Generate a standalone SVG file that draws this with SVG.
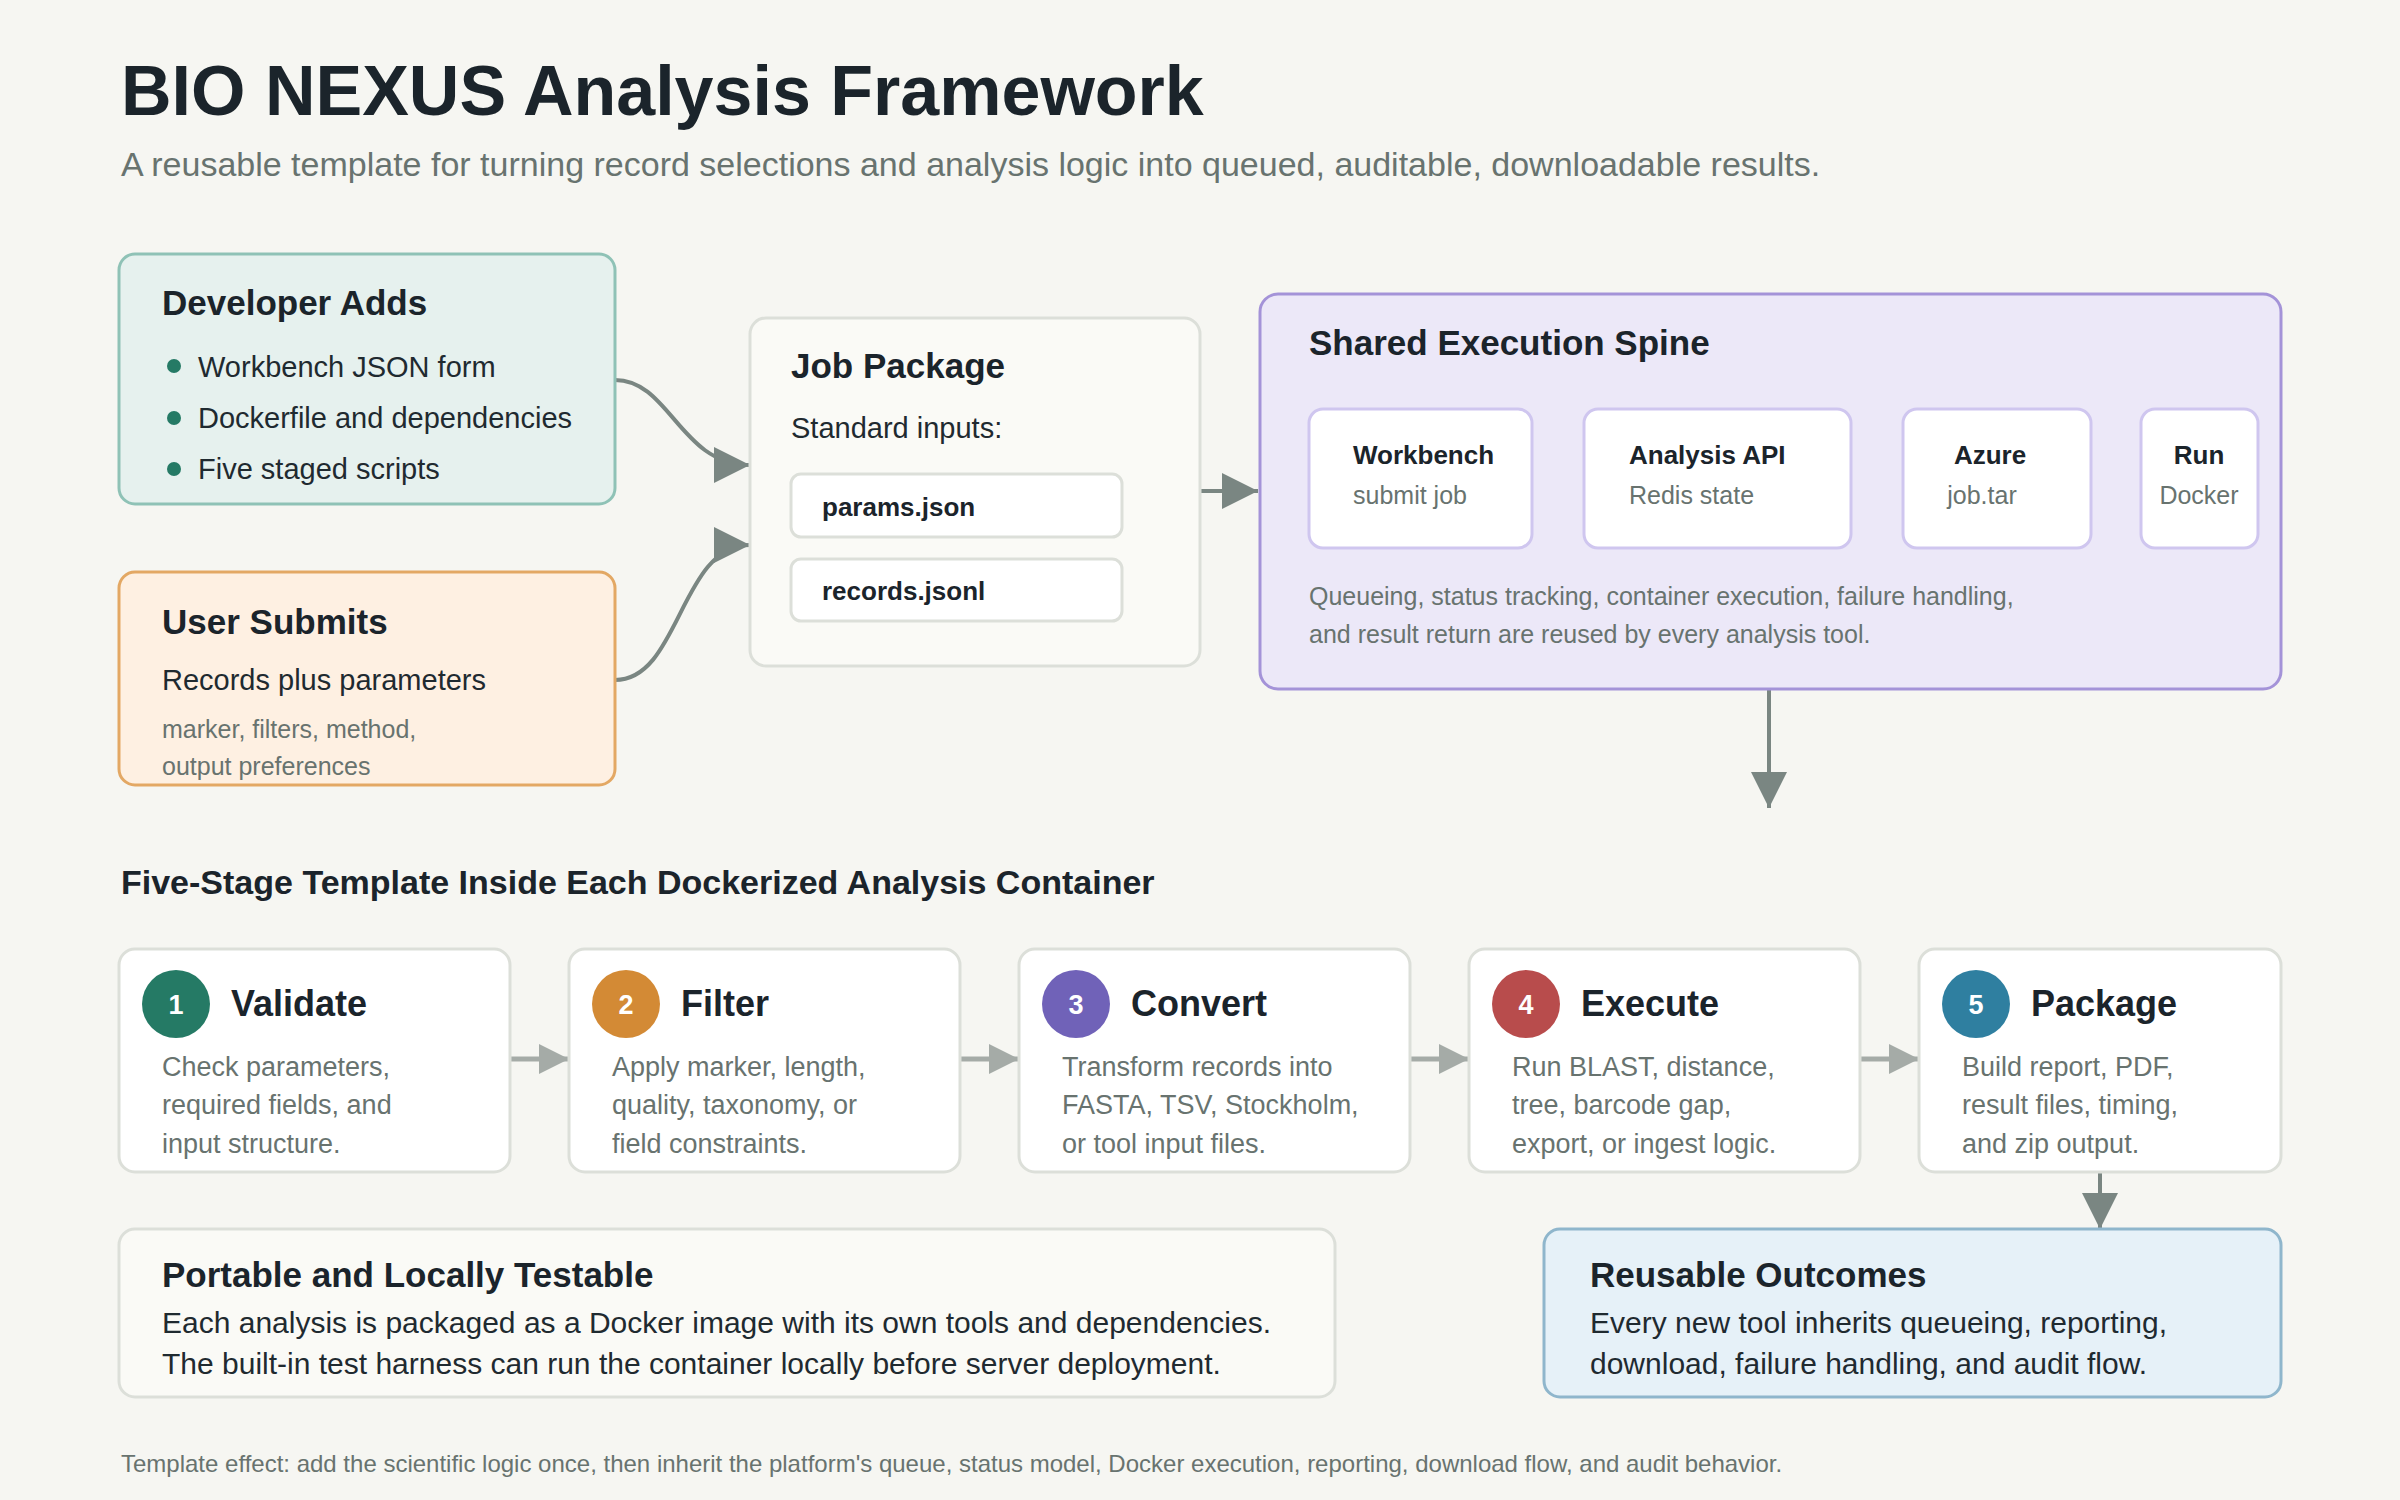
<svg xmlns="http://www.w3.org/2000/svg" width="2400" height="1500" viewBox="0 0 2400 1500">
<defs>
<style>
text{font-family:"Liberation Sans",Arial,sans-serif;}
.h{font-weight:bold;fill:#1b242b;}
.b{fill:#1f2a30;}
.m{fill:#68736f;}
.card{fill:#fff;stroke:#dcdfd9;stroke-width:3;}
.inner{fill:#fff;stroke:#cfc6ef;stroke-width:3;}
.ln{fill:none;stroke:#7a8682;stroke-width:4;}
.lt{fill:none;stroke:#a5aba7;stroke-width:5;}
.num{fill:#fff;font-size:27px;font-weight:bold;text-anchor:middle;}
</style>
<marker id="ah" markerWidth="12" markerHeight="12" refX="9" refY="5" orient="auto" markerUnits="userSpaceOnUse" viewBox="0 0 10 10"><path d="M0,0 L10,5 L0,10z" fill="#7a8682"/></marker>
<marker id="big" viewBox="0 0 10 10" refX="10" refY="5" markerWidth="36" markerHeight="36" markerUnits="userSpaceOnUse" orient="auto"><path d="M0,0 L10,5 L0,10z" fill="#7a8682"/></marker>
<marker id="sm" viewBox="0 0 10 10" refX="10" refY="5" markerWidth="30" markerHeight="30" markerUnits="userSpaceOnUse" orient="auto"><path d="M0,0 L10,5 L0,10z" fill="#a5aba7"/></marker>
</defs>
<rect width="2400" height="1500" fill="#f6f6f2"/>
<text x="121" y="115" class="h" font-size="70">BIO NEXUS Analysis Framework</text>
<text x="121" y="176" class="m" font-size="34">A reusable template for turning record selections and analysis logic into queued, auditable, downloadable results.</text>

<g id="connectors">
<path class="ln" d="M615,380 C670,380 680,465 750,465" marker-end="url(#big)"/>
<path class="ln" d="M615,680 C680,680 680,545 750,545" marker-end="url(#big)"/>
<path class="ln" d="M1200,491 L1258,491" marker-end="url(#big)"/>
<path class="ln" d="M1769,689 L1769,808" marker-end="url(#big)"/>
<path class="lt" d="M1532,479 L1584,479" marker-end="url(#sm)"/>
<path class="lt" d="M1851,479 L1903,479" marker-end="url(#sm)"/>
<path class="lt" d="M2091,479 L2141,479" marker-end="url(#sm)"/>
<path class="lt" d="M510,1059 L569,1059" marker-end="url(#sm)"/>
<path class="lt" d="M960,1059 L1019,1059" marker-end="url(#sm)"/>
<path class="lt" d="M1410,1059 L1469,1059" marker-end="url(#sm)"/>
<path class="lt" d="M1860,1059 L1919,1059" marker-end="url(#sm)"/>
<path class="ln" d="M2100,1172 L2100,1229" marker-end="url(#big)"/>
</g>

<g id="developer">
<rect x="119" y="254" width="496" height="250" rx="16" fill="#e6f1ee" stroke="#8fc2b6" stroke-width="3"/>
<text x="162" y="315" class="h" font-size="35">Developer Adds</text>
<circle cx="174" cy="366" r="7" fill="#257a65"/><text x="198" y="377" class="b" font-size="29">Workbench JSON form</text>
<circle cx="174" cy="418" r="7" fill="#257a65"/><text x="198" y="428" class="b" font-size="29">Dockerfile and dependencies</text>
<circle cx="174" cy="469" r="7" fill="#257a65"/><text x="198" y="479" class="b" font-size="29">Five staged scripts</text>
</g>
<g id="user">
<rect x="119" y="572" width="496" height="213" rx="16" fill="#fef0e2" stroke="#e3a864" stroke-width="3"/>
<text x="162" y="634" class="h" font-size="35">User Submits</text>
<text x="162" y="690" class="b" font-size="29">Records plus parameters</text>
<text x="162" y="738" class="m" font-size="25">marker, filters, method,</text>
<text x="162" y="775" class="m" font-size="25">output preferences</text>
</g>
<g id="jobpackage">
<rect x="750" y="318" width="450" height="348" rx="16" fill="#fafaf6" stroke="#dcdfd9" stroke-width="3"/>
<text x="791" y="378" class="h" font-size="35">Job Package</text>
<text x="791" y="438" class="b" font-size="29">Standard inputs:</text>
<rect x="791" y="474" width="331" height="63" rx="10" class="card"/>
<text x="822" y="516" class="h" font-size="26">params.json</text>
<rect x="791" y="559" width="331" height="62" rx="10" class="card"/>
<text x="822" y="600" class="h" font-size="26">records.jsonl</text>
</g>
<g id="spine">
<rect x="1260" y="294" width="1021" height="395" rx="18" fill="#ece8f8" stroke="#a493d8" stroke-width="3"/>
<text x="1309" y="355" class="h" font-size="35">Shared Execution Spine</text>
<g id="s-workbench"><rect x="1309" y="409" width="223" height="139" rx="14" class="inner"/>
<text x="1353" y="464" class="h" font-size="26">Workbench</text><text x="1353" y="504" class="m" font-size="25">submit job</text></g>
<g id="s-api"><rect x="1584" y="409" width="267" height="139" rx="14" class="inner"/>
<text x="1629" y="464" class="h" font-size="26">Analysis API</text><text x="1629" y="504" class="m" font-size="25">Redis state</text></g>
<g id="s-azure"><rect x="1903" y="409" width="188" height="139" rx="14" class="inner"/>
<text x="1990" y="464" class="h" font-size="26" text-anchor="middle">Azure</text><text x="1982" y="504" class="m" font-size="25" text-anchor="middle">job.tar</text></g>
<g id="s-run"><rect x="2141" y="409" width="117" height="139" rx="14" class="inner"/>
<text x="2199" y="464" class="h" font-size="26" text-anchor="middle">Run</text><text x="2199" y="504" class="m" font-size="25" text-anchor="middle">Docker</text></g>
<text x="1309" y="605" class="m" font-size="25">Queueing, status tracking, container execution, failure handling,</text>
<text x="1309" y="643" class="m" font-size="25">and result return are reused by every analysis tool.</text>
</g>

<text x="121" y="894" class="h" font-size="34">Five-Stage Template Inside Each Dockerized Analysis Container</text>

<g id="stage1"><rect x="119" y="949" width="391" height="223" rx="16" class="card"/>
<circle cx="176" cy="1004" r="34" fill="#257a65"/><text x="176" y="1014" class="num">1</text>
<text x="231" y="1016" class="h" font-size="36">Validate</text>
<text x="162" y="1076" class="m" font-size="27">Check parameters,</text><text x="162" y="1114" class="m" font-size="27">required fields, and</text><text x="162" y="1153" class="m" font-size="27">input structure.</text></g>
<g id="stage2"><rect x="569" y="949" width="391" height="223" rx="16" class="card"/>
<circle cx="626" cy="1004" r="34" fill="#d38a35"/><text x="626" y="1014" class="num">2</text>
<text x="681" y="1016" class="h" font-size="36">Filter</text>
<text x="612" y="1076" class="m" font-size="27">Apply marker, length,</text><text x="612" y="1114" class="m" font-size="27">quality, taxonomy, or</text><text x="612" y="1153" class="m" font-size="27">field constraints.</text></g>
<g id="stage3"><rect x="1019" y="949" width="391" height="223" rx="16" class="card"/>
<circle cx="1076" cy="1004" r="34" fill="#7062b8"/><text x="1076" y="1014" class="num">3</text>
<text x="1131" y="1016" class="h" font-size="36">Convert</text>
<text x="1062" y="1076" class="m" font-size="27">Transform records into</text><text x="1062" y="1114" class="m" font-size="27">FASTA, TSV, Stockholm,</text><text x="1062" y="1153" class="m" font-size="27">or tool input files.</text></g>
<g id="stage4"><rect x="1469" y="949" width="391" height="223" rx="16" class="card"/>
<circle cx="1526" cy="1004" r="34" fill="#b84c4c"/><text x="1526" y="1014" class="num">4</text>
<text x="1581" y="1016" class="h" font-size="36">Execute</text>
<text x="1512" y="1076" class="m" font-size="27">Run BLAST, distance,</text><text x="1512" y="1114" class="m" font-size="27">tree, barcode gap,</text><text x="1512" y="1153" class="m" font-size="27">export, or ingest logic.</text></g>
<g id="stage5"><rect x="1919" y="949" width="362" height="223" rx="16" class="card"/>
<circle cx="1976" cy="1004" r="34" fill="#2f7fa0"/><text x="1976" y="1014" class="num">5</text>
<text x="2031" y="1016" class="h" font-size="36">Package</text>
<text x="1962" y="1076" class="m" font-size="27">Build report, PDF,</text><text x="1962" y="1114" class="m" font-size="27">result files, timing,</text><text x="1962" y="1153" class="m" font-size="27">and zip output.</text></g>

<g id="portable"><rect x="119" y="1229" width="1216" height="168" rx="16" fill="#fafaf6" stroke="#dcdfd9" stroke-width="3"/>
<text x="162" y="1287" class="h" font-size="35">Portable and Locally Testable</text>
<text x="162" y="1333" class="b" font-size="30">Each analysis is packaged as a Docker image with its own tools and dependencies.</text>
<text x="162" y="1374" class="b" font-size="30">The built-in test harness can run the container locally before server deployment.</text></g>
<g id="reusable"><rect x="1544" y="1229" width="737" height="168" rx="16" fill="#e6f1f8" stroke="#8fb6cc" stroke-width="3"/>
<text x="1590" y="1287" class="h" font-size="35">Reusable Outcomes</text>
<text x="1590" y="1333" class="b" font-size="30">Every new tool inherits queueing, reporting,</text>
<text x="1590" y="1374" class="b" font-size="30">download, failure handling, and audit flow.</text></g>

<text x="121" y="1472" class="m" font-size="24">Template effect: add the scientific logic once, then inherit the platform's queue, status model, Docker execution, reporting, download flow, and audit behavior.</text>
</svg>
